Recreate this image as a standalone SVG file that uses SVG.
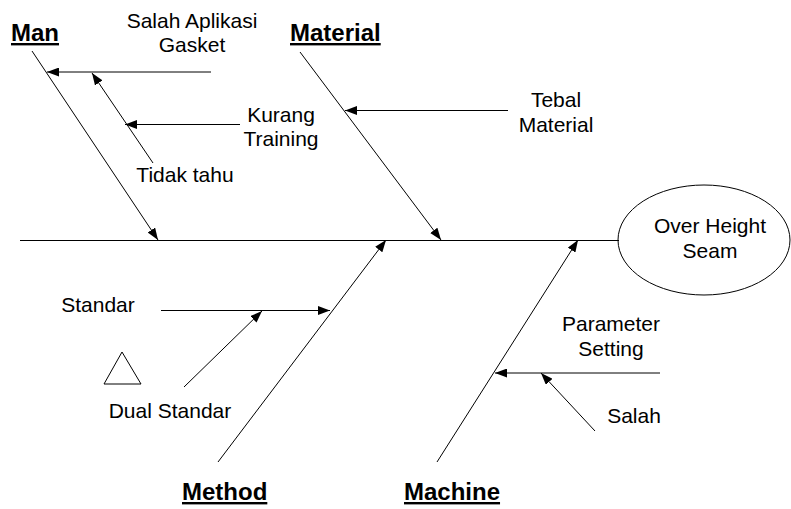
<svg xmlns="http://www.w3.org/2000/svg" width="791" height="509" viewBox="0 0 791 509">
  <style>
    .ln { stroke: #000; stroke-width: 1; fill: none; }
    .arr { marker-end: url(#head); }
    .lbl { font-family: "Liberation Sans", Arial, sans-serif; font-size: 21px; fill: #000; text-anchor: middle; }
    .cat { font-family: "Liberation Sans", Arial, sans-serif; font-size: 24px; font-weight: bold; fill: #000; text-decoration: underline; }
  </style>
  <defs>
    <marker id="head" markerUnits="userSpaceOnUse" markerWidth="13" markerHeight="9" refX="12" refY="4.5" orient="auto">
      <path d="M0,0 L12,4.5 L0,9 z" fill="#000"/>
    </marker>
  </defs>
  <rect width="791" height="509" fill="#fff"/>

  <!-- spine and bones -->
  <g id="connectors">
    <line class="ln" x1="20" y1="240.5" x2="619" y2="240.5"/>
    <!-- Man -->
    <line class="ln arr" x1="32" y1="51" x2="158" y2="240"/>
    <line class="ln arr" x1="211" y1="72" x2="47" y2="72"/>
    <line class="ln arr" x1="153" y1="163" x2="92" y2="73"/>
    <line class="ln arr" x1="240" y1="124.5" x2="125" y2="124.5"/>
    <!-- Material -->
    <line class="ln arr" x1="300" y1="52" x2="441" y2="240"/>
    <line class="ln arr" x1="508" y1="110.5" x2="345" y2="110.5"/>
    <!-- Method -->
    <line class="ln arr" x1="218" y1="462" x2="386" y2="240"/>
    <line class="ln arr" x1="161" y1="310.5" x2="330" y2="310.5"/>
    <line class="ln arr" x1="184" y1="387" x2="262" y2="311"/>
    <!-- Machine -->
    <line class="ln arr" x1="437" y1="462" x2="578" y2="240"/>
    <line class="ln arr" x1="660" y1="373" x2="495" y2="373"/>
    <line class="ln arr" x1="595" y1="431" x2="541" y2="373"/>
  </g>

  <g id="effect">
    <ellipse class="ln" cx="704" cy="240" rx="86" ry="55"/>
    <text class="lbl" x="710" y="233">Over Height</text>
    <text class="lbl" x="710" y="258">Seam</text>
  </g>

  <g id="man">
    <text class="cat" x="11" y="41">Man</text>
  </g>
  <g id="salah-aplikasi">
    <text class="lbl" x="192" y="28">Salah Aplikasi</text>
    <text class="lbl" x="192" y="52">Gasket</text>
  </g>
  <g id="kurang-training">
    <text class="lbl" x="281" y="122">Kurang</text>
    <text class="lbl" x="281" y="146">Training</text>
  </g>
  <g id="tidak-tahu">
    <text class="lbl" x="185" y="182">Tidak tahu</text>
  </g>

  <g id="material">
    <text class="cat" x="290" y="41">Material</text>
  </g>
  <g id="tebal-material">
    <text class="lbl" x="556" y="107">Tebal</text>
    <text class="lbl" x="556" y="132">Material</text>
  </g>

  <g id="method">
    <text class="cat" x="182" y="500">Method</text>
  </g>
  <g id="standar">
    <text class="lbl" x="98" y="312">Standar</text>
  </g>
  <g id="dual-standar">
    <polygon class="ln" points="122,352 104,384 141,384"/>
    <text class="lbl" x="170" y="418">Dual Standar</text>
  </g>

  <g id="machine">
    <text class="cat" x="404" y="500">Machine</text>
  </g>
  <g id="parameter-setting">
    <text class="lbl" x="611" y="331">Parameter</text>
    <text class="lbl" x="611" y="356">Setting</text>
  </g>
  <g id="salah">
    <text class="lbl" x="634" y="423">Salah</text>
  </g>
</svg>
